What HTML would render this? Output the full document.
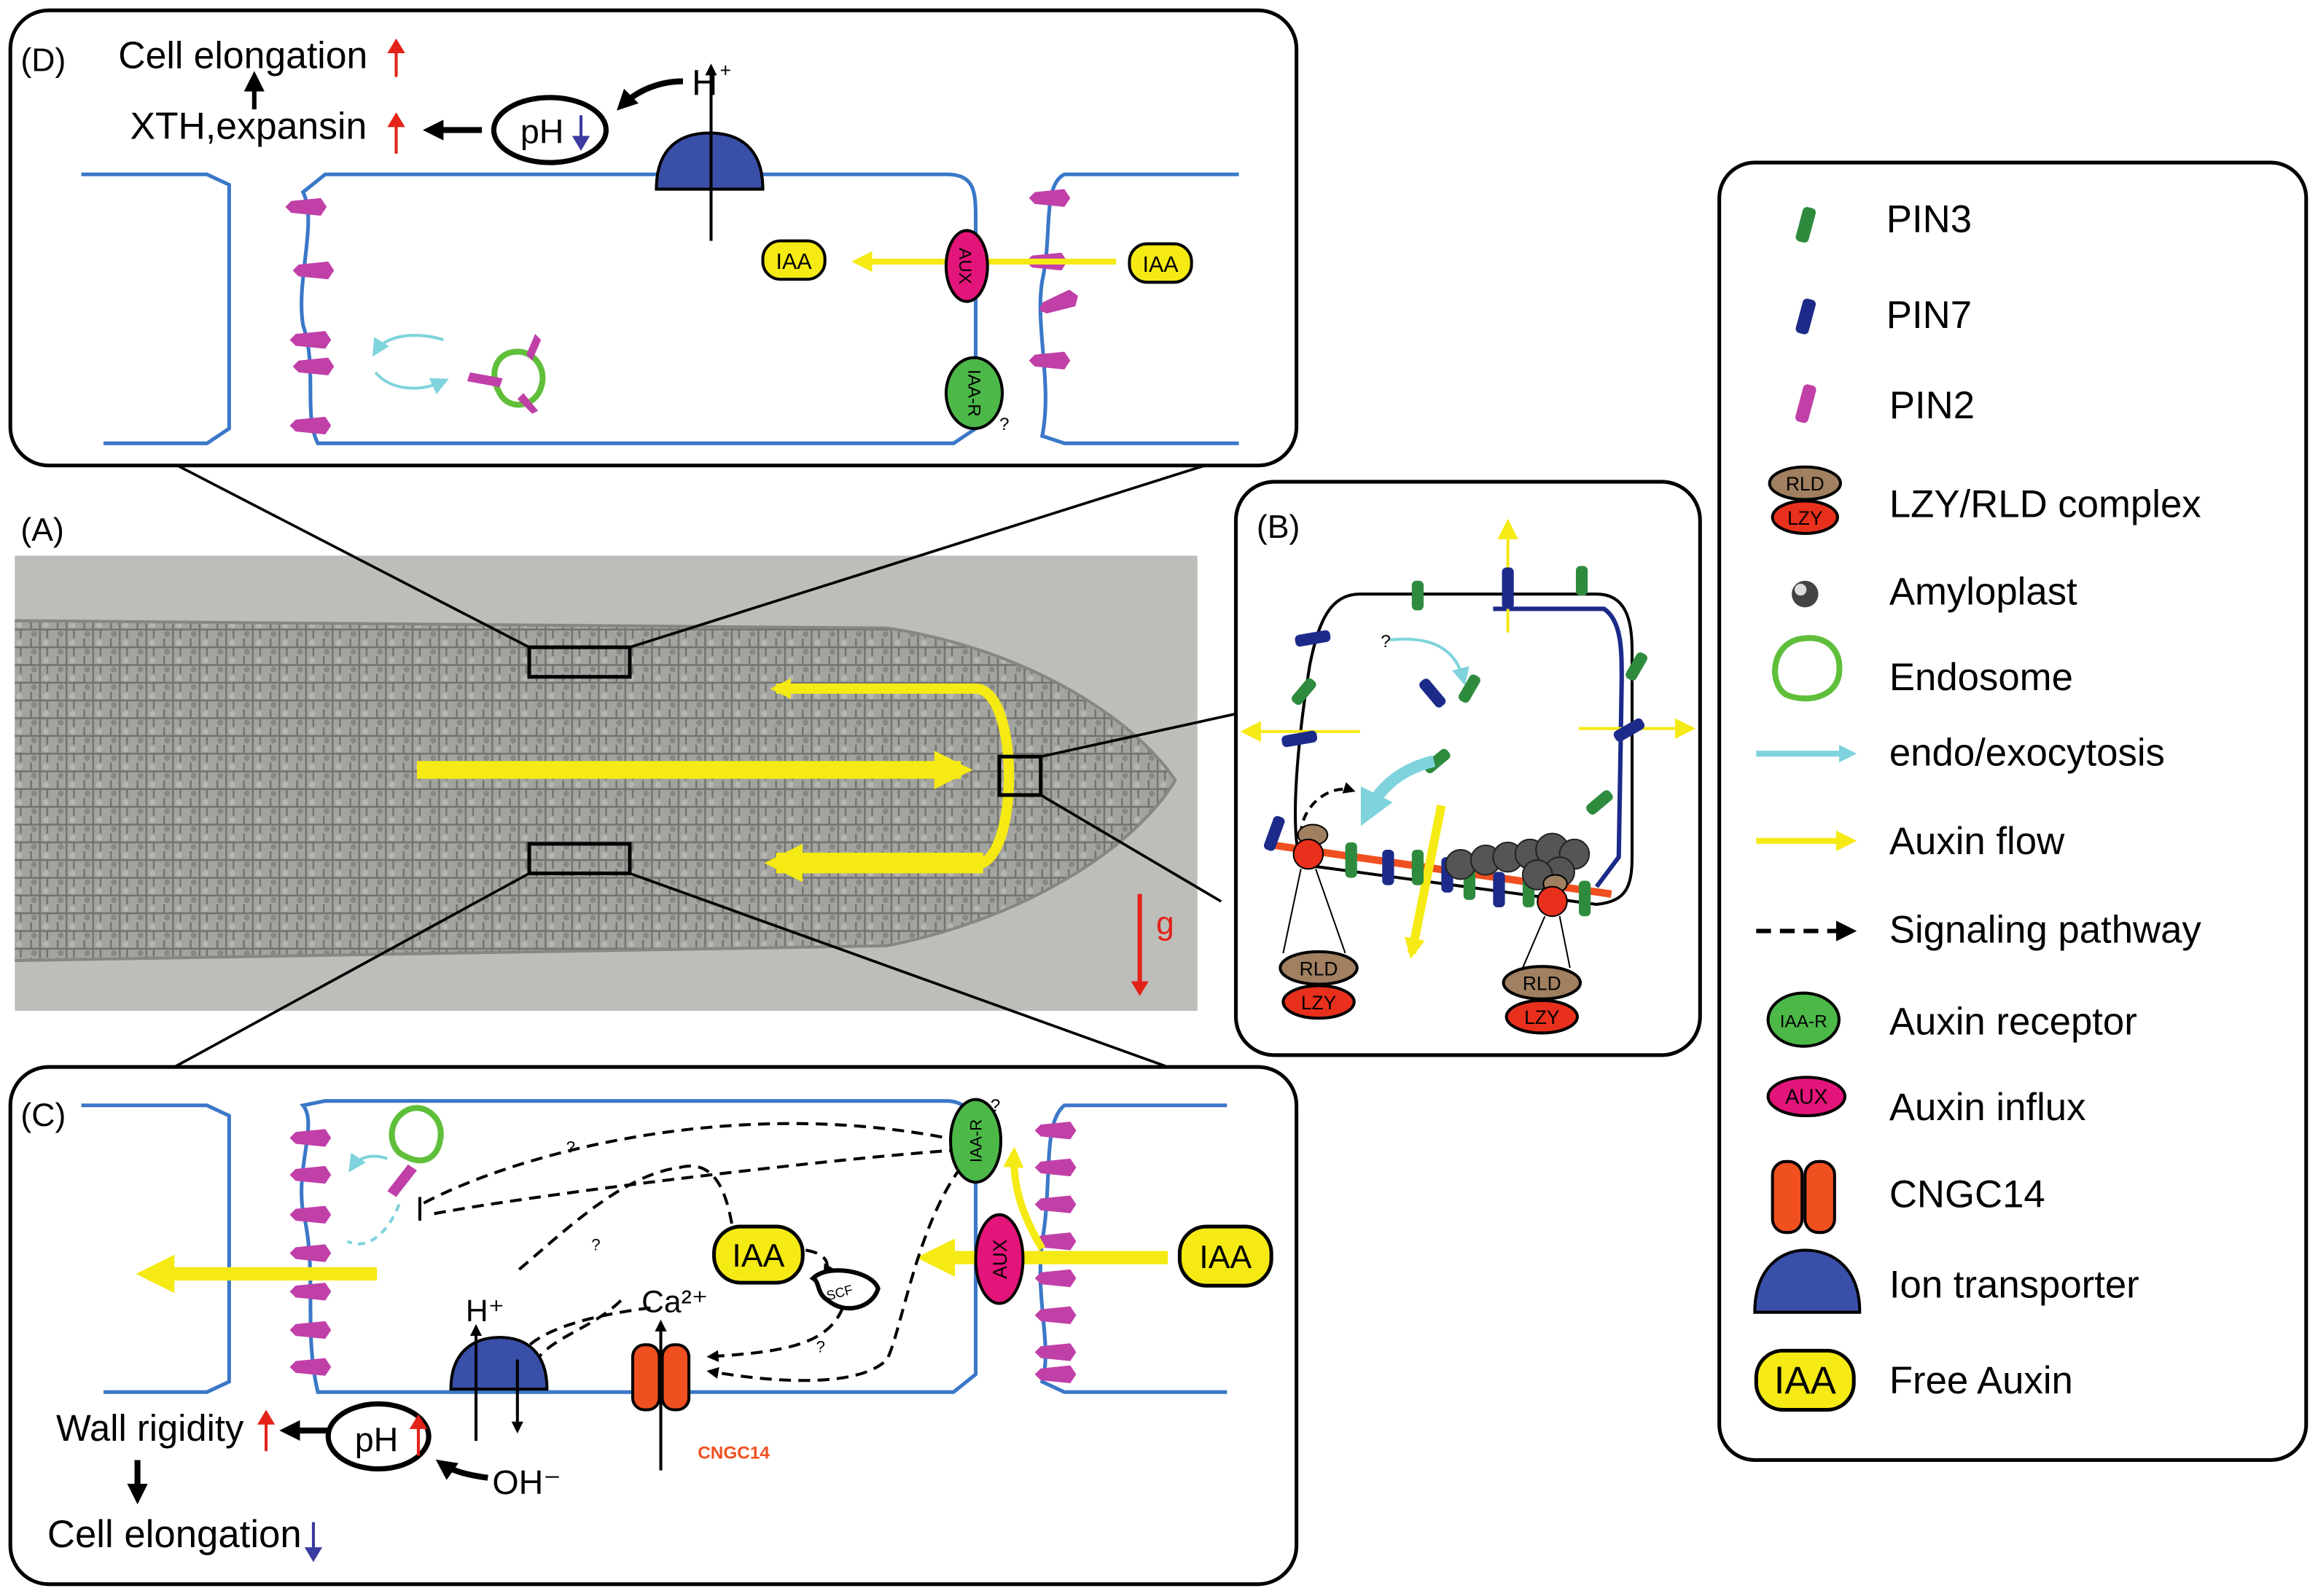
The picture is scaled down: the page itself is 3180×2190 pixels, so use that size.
<!DOCTYPE html>
<html><head><meta charset="utf-8"><style>html,body{margin:0;padding:0;background:#fff}svg{display:block}text{font-family:"Liberation Sans",sans-serif}</style></head><body>
<svg width="3180" height="2190" viewBox="0 0 1568 1080" preserveAspectRatio="none" xmlns="http://www.w3.org/2000/svg">
<defs>
<marker id="ab" markerWidth="8" markerHeight="8" refX="6" refY="4" orient="auto" markerUnits="userSpaceOnUse"><path d="M0,0L8,4L0,8z" fill="#000"/></marker>
<marker id="abk" markerWidth="14" markerHeight="14" refX="10" refY="7" orient="auto" markerUnits="userSpaceOnUse"><path d="M0,0L14,7L0,14z" fill="#000"/></marker>
<marker id="ay" markerWidth="26" markerHeight="26" refX="18" refY="13" orient="auto" markerUnits="userSpaceOnUse"><path d="M0,0L26,13L0,26z" fill="#f5ea14"/></marker>
<marker id="ays" markerWidth="14" markerHeight="14" refX="10" refY="7" orient="auto" markerUnits="userSpaceOnUse"><path d="M0,0L14,7L0,14z" fill="#f5ea14"/></marker>
<marker id="ac" markerWidth="12" markerHeight="12" refX="8" refY="6" orient="auto" markerUnits="userSpaceOnUse"><path d="M0,0L12,6L0,12z" fill="#7fd3dc"/></marker>
<marker id="acb" markerWidth="24" markerHeight="24" refX="14" refY="12" orient="auto" markerUnits="userSpaceOnUse"><path d="M0,0L24,12L0,24z" fill="#7fd3dc"/></marker>
<marker id="ar" markerWidth="10" markerHeight="12" refX="6" refY="6" orient="auto" markerUnits="userSpaceOnUse"><path d="M0,0L10,6L0,12z" fill="#e32219"/></marker>
<marker id="abl" markerWidth="10" markerHeight="12" refX="6" refY="6" orient="auto" markerUnits="userSpaceOnUse"><path d="M0,0L10,6L0,12z" fill="#3a3aa0"/></marker>
<pattern id="tex" width="18" height="12" patternUnits="userSpaceOnUse"><rect width="18" height="12" fill="#9d9e98"/><path d="M0,6h18M9,0v12M3,0v6M14,6v6" stroke="#5f615c" stroke-width="1.2"/><circle cx="5" cy="9" r="2" fill="#7a7b76"/><circle cx="13" cy="3" r="2" fill="#b4b5b0"/></pattern>
<g id="pin2"><path d="M-10,-4L10,-6L14,0L10,6L-10,4L-14,0z" fill="#c040a8"/></g>
</defs>

<!-- Photo A -->
<text x="14" y="366" font-size="22">(A)</text>
<rect x="10" y="376" width="800" height="308" fill="#bdbdba"/>
<path d="M10,420 L600,425 C700,440 770,490 795,528 C770,570 700,620 600,640 L10,650z" fill="url(#tex)" opacity="0.8"/>
<path d="M10,420 L600,425 C700,440 770,490 795,528 C770,570 700,620 600,640 L10,650" fill="none" stroke="#858782" stroke-width="2"/>
<line x1="282" y1="521" x2="650" y2="521" stroke="#f5ea14" stroke-width="12" marker-end="url(#ay)"/>
<path d="M660,585 C690,585 690,466 660,466 L525,466" fill="none" stroke="#f5ea14" stroke-width="7" marker-end="url(#ays)"/>
<path d="M665,584 L525,584" stroke="#f5ea14" stroke-width="14" marker-end="url(#ay)"/>
<rect x="358" y="438" width="68" height="20" fill="none" stroke="#000" stroke-width="2.5"/>
<rect x="358" y="571" width="68" height="20" fill="none" stroke="#000" stroke-width="2.5"/>
<rect x="676" y="512" width="28" height="26" fill="none" stroke="#000" stroke-width="2.5"/>
<line x1="771" y1="605" x2="771" y2="670" stroke="#e32219" stroke-width="3" marker-end="url(#ar)"/>
<text x="782" y="632" font-size="22" fill="#e32219">g</text>
<g stroke="#000" stroke-width="1.8">
<line x1="120" y1="315" x2="358" y2="438"/><line x1="815" y1="315" x2="426" y2="438"/>
<line x1="118" y1="722" x2="358" y2="591"/><line x1="790" y1="722" x2="426" y2="591"/>
<line x1="850" y1="480" x2="704" y2="512"/><line x1="826" y1="610" x2="704" y2="538"/>
</g>

<!-- Panel D -->
<rect x="7" y="7" width="870" height="308" rx="26" fill="#fff" stroke="#000" stroke-width="2.5"/>
<text x="14" y="48" font-size="22">(D)</text>
<text x="80" y="46" font-size="25.5">Cell elongation</text>
<line x1="268" y1="52" x2="268" y2="30" stroke="#e32219" stroke-width="2" marker-end="url(#ar)"/>
<line x1="172" y1="74" x2="172" y2="52" stroke="#000" stroke-width="3" marker-end="url(#abk)"/>
<text x="88" y="94" font-size="25.5">XTH,expansin</text>
<line x1="268" y1="104" x2="268" y2="80" stroke="#e32219" stroke-width="2" marker-end="url(#ar)"/>
<line x1="326" y1="88" x2="290" y2="88" stroke="#000" stroke-width="4" marker-end="url(#abk)"/>
<ellipse cx="372" cy="88" rx="38" ry="22" fill="#fff" stroke="#000" stroke-width="3.5"/>
<text x="352" y="97" font-size="23">pH</text>
<line x1="393" y1="78" x2="393" y2="98" stroke="#3a3aa0" stroke-width="2" marker-end="url(#abl)"/>
<path d="M462,55 C445,55 430,62 420,72" fill="none" stroke="#000" stroke-width="4" marker-end="url(#abk)"/>
<text x="468" y="64" font-size="24">H</text><text x="487" y="52" font-size="13">+</text>
<path d="M55,118 L140,118 L155,125 L155,290 L140,300 L70,300" fill="none" stroke="#3a78c8" stroke-width="2.5"/>
<path d="M220,118 L640,118 C660,118 660,130 660,150 L660,290 L645,300 L215,300 C205,280 215,250 205,220 C200,190 215,150 205,130 Z" fill="none" stroke="#3a78c8" stroke-width="2.5"/>
<path d="M838,118 L720,118 C705,125 712,160 705,190 C700,220 712,260 705,295 L720,300 L838,300" fill="none" stroke="#3a78c8" stroke-width="2.5"/>
<path d="M444,128 C444,100 460,90 480,90 C500,90 516,100 516,128 Z" fill="#3a4fa8" stroke="#000" stroke-width="2"/>
<line x1="481" y1="163" x2="481" y2="45" stroke="#000" stroke-width="2" marker-end="url(#ab)"/>
<g><use href="#pin2" x="207" y="140"/><use href="#pin2" x="212" y="183"/><use href="#pin2" x="210" y="230"/><use href="#pin2" x="212" y="248"/><use href="#pin2" x="210" y="288"/>
<use href="#pin2" x="710" y="134"/><use href="#pin2" x="708" y="177"/><use href="#pin2" x="716" y="205" transform="rotate(-20 716 205)"/><use href="#pin2" x="710" y="244"/></g>
<line x1="755" y1="177" x2="580" y2="177" stroke="#f5ea14" stroke-width="4" marker-end="url(#ays)"/>
<rect x="516" y="163" width="42" height="26" rx="12" fill="#f5ea14" stroke="#000" stroke-width="2"/><text x="537" y="182" font-size="15" text-anchor="middle">IAA</text>
<rect x="764" y="165" width="42" height="26" rx="12" fill="#f5ea14" stroke="#000" stroke-width="2"/><text x="785" y="184" font-size="15" text-anchor="middle">IAA</text>
<ellipse cx="654" cy="180" rx="14" ry="24" fill="#e4157a" stroke="#000" stroke-width="2"/><text x="654" y="185" font-size="12" text-anchor="middle" transform="rotate(90 654 180)">AUX</text>
<ellipse cx="659" cy="266" rx="19" ry="24" fill="#4cb848" stroke="#000" stroke-width="2"/><text x="659" y="270" font-size="12" text-anchor="middle" transform="rotate(90 659 266)">IAA-R</text>
<text x="676" y="291" font-size="12">?</text>
<path d="M300,230 C285,225 262,225 254,238" fill="none" stroke="#7fd3dc" stroke-width="2" marker-end="url(#ac)"/>
<path d="M254,252 C265,265 285,265 300,258" fill="none" stroke="#7fd3dc" stroke-width="2" marker-end="url(#ac)"/>
<path d="M350,238 C362,238 370,250 366,262 C362,276 344,278 338,266 C330,252 336,238 350,238z" fill="none" stroke="#5fbf3a" stroke-width="4"/>
<path d="M318,252L340,256L338,262L316,258z" fill="#c040a8"/><path d="M356,240L362,226L366,230L360,244z" fill="#c040a8"/><path d="M354,266L364,278L360,280L350,270z" fill="#c040a8"/>

<!-- Panel B -->
<rect x="836" y="326" width="314" height="388" rx="26" fill="#fff" stroke="#000" stroke-width="2.5"/>
<text x="850" y="364" font-size="22">(B)</text>
<path d="M920,402 L1080,402 C1100,402 1104,420 1104,440 L1104,580 C1104,600 1100,610 1080,612 L880,585 C872,560 878,500 886,450 C892,420 900,402 920,402z" fill="none" stroke="#000" stroke-width="2"/>
<path d="M1010,412 L1085,412 C1097,420 1097,440 1097,460 L1095,580 L1080,600" fill="none" stroke="#1c2a8a" stroke-width="3"/>
<path d="M862,572 L1090,605" stroke="#f05020" stroke-width="5"/>
<line x1="1020" y1="428" x2="1020" y2="355" stroke="#f5ea14" stroke-width="2" marker-end="url(#ays)"/>
<line x1="1068" y1="493" x2="1143" y2="493" stroke="#f5ea14" stroke-width="2" marker-end="url(#ays)"/>
<line x1="920" y1="495" x2="843" y2="495" stroke="#f5ea14" stroke-width="2" marker-end="url(#ays)"/>
<line x1="975" y1="545" x2="955" y2="645" stroke="#f5ea14" stroke-width="6" marker-end="url(#ays)"/>
<g fill="#2e8b3e"><rect x="955" y="393" width="8" height="20" rx="3"/><rect x="1066" y="383" width="8" height="20" rx="3"/><rect x="878" y="458" width="8" height="20" rx="3" transform="rotate(40 882 468)"/><rect x="1103" y="441" width="8" height="20" rx="3" transform="rotate(30 1107 451)"/><rect x="1078" y="533" width="8" height="20" rx="3" transform="rotate(50 1082 543)"/><rect x="990" y="456" width="8" height="20" rx="3" transform="rotate(30 994 466)"/><rect x="968" y="505" width="8" height="20" rx="3" transform="rotate(50 972 515)"/></g>
<g fill="#1c2a8a"><rect x="1016" y="384" width="8" height="28" rx="3"/><rect x="884" y="420" width="8" height="24" rx="3" transform="rotate(80 888 432)"/><rect x="875" y="488" width="8" height="24" rx="3" transform="rotate(80 879 500)"/><rect x="1098" y="483" width="8" height="22" rx="3" transform="rotate(60 1102 494)"/><rect x="965" y="458" width="8" height="22" rx="3" transform="rotate(-40 969 469)"/><rect x="858" y="552" width="8" height="24" rx="3" transform="rotate(20 862 564)"/></g>
<g>
<rect x="910" y="570" width="8" height="24" rx="3" fill="#2e8b3e"/><rect x="935" y="575" width="8" height="24" rx="3" fill="#1c2a8a"/><rect x="955" y="575" width="8" height="24" rx="3" fill="#2e8b3e"/><rect x="975" y="580" width="8" height="24" rx="3" fill="#1c2a8a"/><rect x="990" y="585" width="8" height="24" rx="3" fill="#2e8b3e"/><rect x="1010" y="590" width="8" height="24" rx="3" fill="#1c2a8a"/><rect x="1030" y="590" width="8" height="24" rx="3" fill="#2e8b3e"/><rect x="1068" y="596" width="8" height="24" rx="3" fill="#2e8b3e"/>
</g>
<g fill="#555" stroke="#222" stroke-width="1"><circle cx="988" cy="585" r="10"/><circle cx="1005" cy="582" r="10"/><circle cx="1020" cy="580" r="10"/><circle cx="1035" cy="578" r="10"/><circle cx="1050" cy="575" r="11"/><circle cx="1065" cy="578" r="10"/><circle cx="1055" cy="590" r="10"/><circle cx="1040" cy="592" r="10"/></g>
<path d="M940,433 C970,430 985,440 990,460" fill="none" stroke="#7fd3dc" stroke-width="2" marker-end="url(#ac)"/>
<text x="934" y="438" font-size="12">?</text>
<path d="M970,515 C950,520 935,530 925,550" fill="none" stroke="#7fd3dc" stroke-width="8" marker-end="url(#acb)"/>
<path d="M880,565 C880,545 900,530 915,535" fill="none" stroke="#000" stroke-width="2" stroke-dasharray="6,4" marker-end="url(#ab)"/>
<ellipse cx="888" cy="565" rx="10" ry="7" fill="#a08060" stroke="#000"/><circle cx="885" cy="578" r="10" fill="#e8301c" stroke="#000"/>
<ellipse cx="1052" cy="598" rx="8" ry="6" fill="#a08060" stroke="#000"/><circle cx="1050" cy="610" r="10" fill="#e8301c" stroke="#000"/>
<g stroke="#000" stroke-width="1"><line x1="880" y1="588" x2="868" y2="645"/><line x1="890" y1="588" x2="910" y2="645"/><line x1="1045" y1="620" x2="1030" y2="655"/><line x1="1055" y1="620" x2="1062" y2="655"/></g>
<ellipse cx="892" cy="655" rx="26" ry="11" fill="#a08060" stroke="#000" stroke-width="2"/><text x="892" y="660" font-size="13" text-anchor="middle">RLD</text>
<ellipse cx="892" cy="678" rx="24" ry="11" fill="#e8301c" stroke="#000" stroke-width="2"/><text x="892" y="683" font-size="13" text-anchor="middle">LZY</text>
<ellipse cx="1043" cy="665" rx="26" ry="11" fill="#a08060" stroke="#000" stroke-width="2"/><text x="1043" y="670" font-size="13" text-anchor="middle">RLD</text>
<ellipse cx="1043" cy="688" rx="24" ry="11" fill="#e8301c" stroke="#000" stroke-width="2"/><text x="1043" y="693" font-size="13" text-anchor="middle">LZY</text>

<!-- Panel C -->
<rect x="7" y="722" width="870" height="350" rx="26" fill="#fff" stroke="#000" stroke-width="2.5"/>
<text x="14" y="762" font-size="22">(C)</text>
<path d="M55,748 L140,748 L155,755 L155,935 L140,942 L70,942" fill="none" stroke="#3a78c8" stroke-width="2.5"/>
<path d="M220,745 L640,745 C658,745 660,760 660,780 L660,930 L645,942 L215,942 C205,900 215,860 205,820 C200,790 215,760 205,748 Z" fill="none" stroke="#3a78c8" stroke-width="2.5"/>
<path d="M830,748 L720,748 C705,760 712,800 705,840 C700,880 712,910 705,935 L720,942 L830,942" fill="none" stroke="#3a78c8" stroke-width="2.5"/>
<g><use href="#pin2" x="210" y="770"/><use href="#pin2" x="210" y="795"/><use href="#pin2" x="210" y="822"/><use href="#pin2" x="210" y="848"/><use href="#pin2" x="210" y="874"/><use href="#pin2" x="210" y="900"/><use href="#pin2" x="210" y="925"/>
<use href="#pin2" x="714" y="765"/><use href="#pin2" x="714" y="790"/><use href="#pin2" x="714" y="815"/><use href="#pin2" x="714" y="840"/><use href="#pin2" x="714" y="865"/><use href="#pin2" x="714" y="890"/><use href="#pin2" x="714" y="915"/><use href="#pin2" x="714" y="930"/></g>
<line x1="255" y1="862" x2="100" y2="862" stroke="#f5ea14" stroke-width="9" marker-end="url(#ay)"/>
<line x1="790" y1="851" x2="628" y2="851" stroke="#f5ea14" stroke-width="9" marker-end="url(#ay)"/>
<path d="M705,845 C690,820 685,800 686,780" fill="none" stroke="#f5ea14" stroke-width="5" marker-end="url(#ays)"/>
<path d="M274,752 C285,745 300,755 298,770 C296,785 285,790 270,780 C262,772 264,758 274,752z" fill="none" stroke="#5fbf3a" stroke-width="4"/>
<path d="M262,806L276,788L282,792L268,810z" fill="#c040a8"/>
<path d="M262,784 C250,780 242,784 238,790" fill="none" stroke="#7fd3dc" stroke-width="2" marker-end="url(#ac)"/>
<path d="M270,815 C260,840 245,845 235,840" fill="none" stroke="#7fd3dc" stroke-width="2" stroke-dasharray="5,4"/>
<g fill="none" stroke="#000" stroke-width="2" stroke-dasharray="8,5">
<path d="M650,772 C500,740 350,780 285,815"/>
<path d="M650,778 C550,785 350,810 290,822"/>
<path d="M495,828 C490,800 480,785 460,790 C420,795 380,835 350,860"/>
<path d="M650,790 C620,830 610,900 600,920 C580,940 520,935 480,928" marker-end="url(#ab)"/>
<path d="M420,880 C400,900 370,905 360,925" marker-end="url(#ab)"/>
<path d="M440,885 C400,890 360,900 350,920"/>
<path d="M532,845 C560,845 562,855 558,862" marker-end="url(#ab)"/>
<path d="M570,885 C560,910 530,915 480,918" marker-end="url(#ab)"/>
</g>
<line x1="284" y1="810" x2="284" y2="826" stroke="#000" stroke-width="2"/>
<text x="383" y="780" font-size="11">?</text><text x="400" y="846" font-size="11">?</text><text x="552" y="915" font-size="11">?</text><text x="670" y="752" font-size="12">?</text>
<rect x="483" y="830" width="60" height="38" rx="18" fill="#f5ea14" stroke="#000" stroke-width="2.5"/><text x="513" y="857" font-size="22" text-anchor="middle">IAA</text>
<rect x="798" y="830" width="62" height="40" rx="18" fill="#f5ea14" stroke="#000" stroke-width="2.5"/><text x="829" y="858" font-size="22" text-anchor="middle">IAA</text>
<ellipse cx="676" cy="852" rx="16" ry="30" fill="#e4157a" stroke="#000" stroke-width="2"/><text x="676" y="857" font-size="13" text-anchor="middle" transform="rotate(-90 676 852)">AUX</text>
<ellipse cx="660" cy="772" rx="17" ry="28" fill="#4cb848" stroke="#000" stroke-width="2"/><text x="660" y="776" font-size="11" text-anchor="middle" transform="rotate(-90 660 772)">IAA-R</text>
<path d="M550,865 C560,855 590,860 594,872 C590,885 572,890 560,880 C552,875 555,868 550,865z" fill="#fff" stroke="#000" stroke-width="3"/><text x="560" y="880" font-size="9" transform="rotate(-15 560 880)">SCF</text>
<path d="M305,940 C305,915 320,905 338,905 C356,905 370,915 370,940 Z" fill="#3a4fa8" stroke="#000" stroke-width="2"/>
<line x1="322" y1="975" x2="322" y2="898" stroke="#000" stroke-width="2" marker-end="url(#ab)"/>
<line x1="350" y1="920" x2="350" y2="968" stroke="#000" stroke-width="2" marker-end="url(#ab)"/>
<text x="315" y="894" font-size="21">H⁺</text>
<text x="333" y="1011" font-size="23">OH⁻</text>
<text x="434" y="888" font-size="21">Ca²⁺</text>
<rect x="428" y="910" width="18" height="44" rx="8" fill="#f05020" stroke="#000" stroke-width="2"/><rect x="448" y="910" width="18" height="44" rx="8" fill="#f05020" stroke="#000" stroke-width="2"/>
<line x1="447" y1="995" x2="447" y2="895" stroke="#000" stroke-width="2" marker-end="url(#ab)"/>
<text x="472" y="987" font-size="12" font-weight="bold" fill="#f05020">CNGC14</text>
<text x="38" y="975" font-size="25">Wall rigidity</text>
<line x1="180" y1="982" x2="180" y2="958" stroke="#e32219" stroke-width="2" marker-end="url(#ar)"/>
<line x1="222" y1="968" x2="193" y2="968" stroke="#000" stroke-width="4" marker-end="url(#abk)"/>
<ellipse cx="256" cy="972" rx="34" ry="22" fill="#fff" stroke="#000" stroke-width="3.5"/>
<text x="240" y="982" font-size="23">pH</text>
<line x1="283" y1="985" x2="283" y2="961" stroke="#e32219" stroke-width="2" marker-end="url(#ar)"/>
<path d="M330,1000 C315,998 305,995 298,990" fill="none" stroke="#000" stroke-width="4" marker-end="url(#abk)"/>
<line x1="93" y1="988" x2="93" y2="1014" stroke="#000" stroke-width="4" marker-end="url(#abk)"/>
<text x="32" y="1047" font-size="26">Cell elongation</text>
<line x1="212" y1="1030" x2="212" y2="1053" stroke="#3a3aa0" stroke-width="2" marker-end="url(#abl)"/>

<!-- Legend -->
<rect x="1163" y="110" width="397" height="878" rx="24" fill="#fff" stroke="#000" stroke-width="2.5"/>
<g font-size="26">
<rect x="1217" y="140" width="9" height="24" rx="3" fill="#2e8b3e" transform="rotate(15 1221 152)"/><text x="1276" y="157">PIN3</text>
<rect x="1217" y="202" width="9" height="24" rx="3" fill="#1c2a8a" transform="rotate(15 1221 214)"/><text x="1276" y="222">PIN7</text>
<rect x="1217" y="260" width="9" height="26" rx="3" fill="#c040a8" transform="rotate(15 1221 273)"/><text x="1278" y="283">PIN2</text>
<ellipse cx="1221" cy="327" rx="24" ry="11" fill="#a08060" stroke="#000" stroke-width="2"/><text x="1221" y="332" font-size="13" text-anchor="middle">RLD</text>
<ellipse cx="1221" cy="350" rx="22" ry="11" fill="#e8301c" stroke="#000" stroke-width="2"/><text x="1221" y="355" font-size="13" text-anchor="middle">LZY</text>
<text x="1278" y="350">LZY/RLD complex</text>
<circle cx="1221" cy="402" r="9" fill="#444"/><circle cx="1218" cy="399" r="4" fill="#ddd"/><text x="1278" y="409">Amyloplast</text>
<path d="M1220,432 C1236,430 1246,440 1244,456 C1242,472 1222,476 1208,470 C1196,462 1198,434 1220,432z" fill="none" stroke="#5fbf3a" stroke-width="4"/><text x="1278" y="467">Endosome</text>
<line x1="1188" y1="510" x2="1252" y2="510" stroke="#7fd3dc" stroke-width="4" marker-end="url(#ac)"/><text x="1278" y="518">endo/exocytosis</text>
<line x1="1188" y1="569" x2="1252" y2="569" stroke="#f5ea14" stroke-width="4" marker-end="url(#ays)"/><text x="1278" y="578">Auxin flow</text>
<line x1="1188" y1="630" x2="1252" y2="630" stroke="#000" stroke-width="3" stroke-dasharray="10,6" marker-end="url(#abk)"/><text x="1278" y="638">Signaling pathway</text>
<ellipse cx="1220" cy="690" rx="24" ry="18" fill="#4cb848" stroke="#000" stroke-width="2"/><text x="1220" y="695" font-size="12" text-anchor="middle">IAA-R</text><text x="1278" y="700">Auxin receptor</text>
<ellipse cx="1222" cy="742" rx="26" ry="13" fill="#e4157a" stroke="#000" stroke-width="2"/><text x="1222" y="747" font-size="14" text-anchor="middle">AUX</text><text x="1278" y="758">Auxin influx</text>
<rect x="1199" y="786" width="20" height="48" rx="9" fill="#f05020" stroke="#000" stroke-width="2"/><rect x="1221" y="786" width="20" height="48" rx="9" fill="#f05020" stroke="#000" stroke-width="2"/><text x="1278" y="817">CNGC14</text>
<path d="M1187,888 C1187,858 1205,846 1221,846 C1240,846 1258,858 1258,888 Z" fill="#3a4fa8" stroke="#000" stroke-width="2"/><text x="1278" y="878">Ion transporter</text>
<rect x="1188" y="914" width="66" height="40" rx="18" fill="#f5ea14" stroke="#000" stroke-width="2.5"/><text x="1221" y="943" text-anchor="middle">IAA</text><text x="1278" y="943">Free Auxin</text>
</g>
</svg>
</body></html>
